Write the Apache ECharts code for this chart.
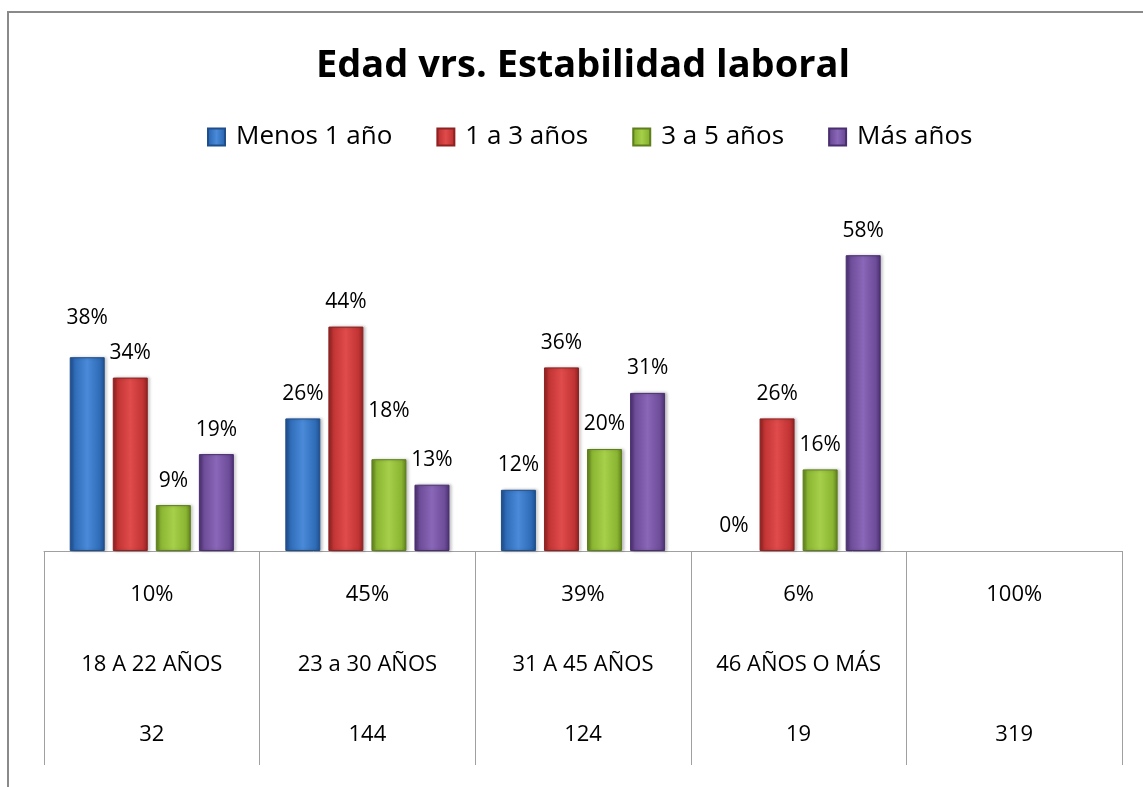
<!DOCTYPE html>
<html>
<head>
<meta charset="utf-8">
<script src="https://cdn.jsdelivr.net/npm/echarts@6/dist/echarts.min.js"></script>
<style>
  html, body { margin: 0; padding: 0; background: #ffffff; }
  #chart { width: 1143px; height: 787px; }
</style>
</head>
<body>
<div id="chart"></div>
<script>
// Age groups (the last column only carries the totals)
const ageGroups = ['18 A 22 AÑOS', '23 a 30 AÑOS', '31 A 45 AÑOS', '46 AÑOS O MÁS', ''];
const groupShare = [10, 45, 39, 6, 100];      // % of respondents per age group
const groupCount = [32, 144, 124, 19, 319];   // respondents per age group

// Job tenure series, % within each age group
const seriesNames = ['Menos 1 año', '1 a 3 años', '3 a 5 años', 'Más años'];
const menos1Anio = [38, 26, 12, 0, null];
const de1a3Anios = [34, 44, 36, 26, null];
const de3a5Anios = [9, 18, 20, 16, null];
const masAnios   = [19, 13, 31, 58, null];

const seriesValues = [menos1Anio, de1a3Anios, de3a5Anios, masAnios];

// Bevelled bar fills: dark edges, lighter middle
const palettes = [
  { edge: '#1f4e8c', base: '#2f6cb8', light: '#4a8ad8' },
  { edge: '#8e2222', base: '#c23434', light: '#e04b4b' },
  { edge: '#5e7f1c', base: '#8ab532', light: '#a6d04a' },
  { edge: '#4a2f70', base: '#6d4c99', light: '#8a67b8' }
];
function barFill(p) {
  return new echarts.graphic.LinearGradient(0, 0, 1, 0, [
    { offset: 0, color: p.edge },
    { offset: 0.14, color: p.base },
    { offset: 0.5, color: p.light },
    { offset: 0.86, color: p.base },
    { offset: 1, color: p.edge }
  ]);
}

// A couple of value labels sit higher above their bars
const liftedLabels = { '0-0': 15, '2-1': 24 };

const FONT = '"Open Sans", "Liberation Sans", sans-serif';

const chart = echarts.init(document.getElementById('chart'), null, { renderer: 'canvas' });

const series = seriesValues.map((vals, s) => ({
  name: seriesNames[s],
  type: 'bar',
  barWidth: 35,
  barGap: '23%',
  itemStyle: {
    color: barFill(palettes[s]),
    borderColor: palettes[s].edge,
    borderWidth: 1,
    shadowColor: 'rgba(0,0,0,0.25)',
    shadowBlur: 3,
    shadowOffsetX: 2,
    shadowOffsetY: 0
  },
  label: {
    show: true,
    position: 'top',
    distance: 14,
    color: '#000000',
    fontFamily: FONT,
    fontSize: 21,
    formatter: p => (p.value === null || p.value === undefined) ? '' : p.value + '%'
  },
  data: vals.map((v, c) => {
    const item = { value: v };
    const lift = liftedLabels[s + '-' + c];
    if (lift) item.label = { offset: [0, -lift] };
    // a zero-height bar leaves no visible outline
    if (v === 0) item.itemStyle = { borderWidth: 0, shadowColor: 'rgba(0,0,0,0)' };
    return item;
  })
}));

chart.setOption({
  backgroundColor: '#ffffff',
  animation: false,
  title: {
    text: 'Edad vrs. Estabilidad laboral',
    left: 578,
    textAlign: 'center',
    top: 42,
    textStyle: {
      fontFamily: FONT,
      fontWeight: 'bold',
      fontSize: 38,
      color: '#000000'
    }
  },
  legend: {
    data: seriesNames,
    left: 202,
    top: 119,
    icon: 'rect',
    itemWidth: 17,
    itemHeight: 17,
    itemGap: 44,
    textStyle: {
      fontFamily: FONT,
      fontSize: 26,
      color: '#000000',
      padding: [0, 0, 0, 6]
    }
  },
  grid: {
    left: 44,
    right: 21,
    top: 194,
    bottom: 236,
    containLabel: false
  },
  xAxis: {
    type: 'category',
    data: ageGroups,
    axisLine: { show: true, lineStyle: { color: '#a0a0a0', width: 1 } },
    axisTick: {
      show: true,
      interval: 0,
      alignWithLabel: false,
      length: 214,
      lineStyle: { color: '#a0a0a0', width: 1 }
    },
    axisLabel: {
      interval: 0,
      margin: 26,
      fontFamily: FONT,
      fontSize: 22,
      lineHeight: 35,
      color: '#000000',
      formatter: (value, idx) =>
        groupShare[idx] + '%\n\n' + ageGroups[idx] + '\n\n' + groupCount[idx]
    }
  },
  yAxis: {
    type: 'value',
    min: 0,
    max: 70,
    show: false,
    splitLine: { show: false }
  },
  graphic: [
    {
      type: 'rect',
      silent: true,
      shape: { x: 8, y: 12, width: 1200, height: 900 },
      style: { fill: null, stroke: '#8a8a8a', lineWidth: 2 }
    }
  ],
  series: series
});
</script>
</body>
</html>
